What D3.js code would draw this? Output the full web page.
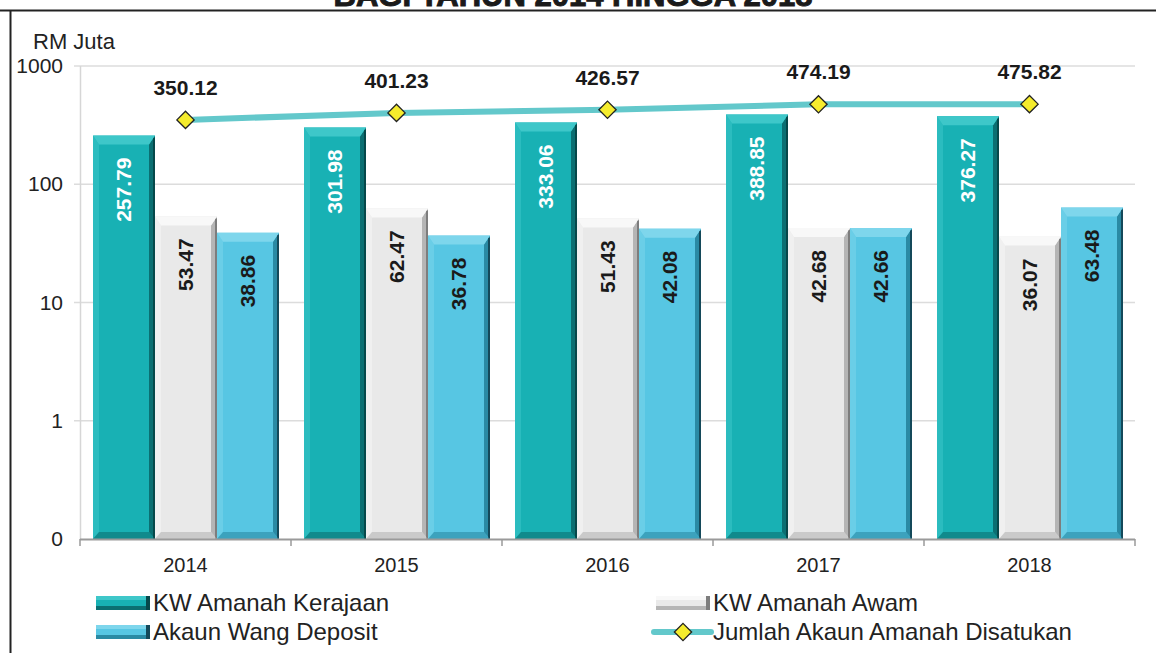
<!DOCTYPE html>
<html>
<head>
<meta charset="utf-8">
<script src="https://cdnjs.cloudflare.com/ajax/libs/d3/7.8.5/d3.min.js"></script>
<style>
  body { margin: 0; background: #fff; }
  svg { font-family: "Liberation Sans", Arial, sans-serif; }
  .grid line { stroke: #dcdcdc; stroke-width: 1.5px; }
  .ylab text { font-size: 21px; fill: #222; }
  .xlab { font-size: 20px; fill: #222; }
  .val { font-size: 21px; font-weight: bold; }
  .legend text { font-size: 24px; fill: #222; }
</style>
</head>
<body>
<script>
// data
var years = ["2014", "2015", "2016", "2017", "2018"];
var kerajaan = [257.79, 301.98, 333.06, 388.85, 376.27];
var awam = [53.47, 62.47, 51.43, 42.68, 36.07];
var deposit = [38.86, 36.78, 42.08, 42.66, 63.48];
var jumlah = [350.12, 401.23, 426.57, 474.19, 475.82];
var yTicks = [0.1, 1, 10, 100, 1000];
var yTickLabels = ["0", "1", "10", "100", "1000"];

var seriesNames = ["KW Amanah Kerajaan", "KW Amanah Awam", "Akaun Wang Deposit"];
var seriesData = [kerajaan, awam, deposit];
var lineName = "Jumlah Akaun Amanah Disatukan";

// bar looks: body, light bevel, dark bevel, label colour
var looks = [
  {body: "#18b1b4", light: "#3ec7c9", dark: "#0b6f72", edge: "#06484a", text: "#fff"},
  {body: "#e9e9e9", light: "#f8f8f8", dark: "#b5b5b5", edge: "#7d7d7d", text: "#1a1a1a"},
  {body: "#57c6e3", light: "#7ed6ec", dark: "#2a8aa4", edge: "#14495a", text: "#1a1a1a"}
];

var W = 1156, H = 653;
var svg = d3.select("body").append("svg").attr("width", W).attr("height", H);

var x = d3.scaleBand().domain(years).range([80, 1135]);
var xs = d3.scaleBand().domain([0, 1, 2]).range([13, 199]);
var y = d3.scaleLog().domain([0.1, 1000]).range([539, 66]);

// frame and cut title (the top of the title is outside the picture, as in the source)
svg.append("text")
  .attr("x", 573).attr("y", 6)
  .attr("text-anchor", "middle")
  .style("font-size", "31px").style("font-weight", "bold")
  .style("fill", "#1a1a1a").style("stroke", "#1a1a1a").style("stroke-width", "1px")
  .text("BAGI TAHUN 2014 HINGGA 2018");
svg.append("line").attr("x1", 0).attr("x2", W).attr("y1", 10.5).attr("y2", 10.5)
  .style("stroke", "#222").style("stroke-width", 2);
svg.append("line").attr("x1", 10.5).attr("x2", 10.5).attr("y1", 10).attr("y2", H)
  .style("stroke", "#222").style("stroke-width", 2);

// grid lines
svg.append("g").attr("class", "grid")
  .selectAll("line").data(yTicks.slice(1)).enter().append("line")
  .attr("x1", 74).attr("x2", 1135)
  .attr("y1", function(d) { return y(d); }).attr("y2", function(d) { return y(d); });

// y axis
svg.append("line").attr("x1", 80.5).attr("x2", 80.5).attr("y1", 66).attr("y2", 539)
  .style("stroke", "#d6d6d6").style("stroke-width", 1.5);
svg.append("g").attr("class", "ylab")
  .selectAll("text").data(yTicks).enter().append("text")
  .attr("x", 63).attr("y", function(d) { return y(d) + 7; })
  .attr("text-anchor", "end")
  .text(function(d, i) { return yTickLabels[i]; });
svg.append("text").attr("x", 33).attr("y", 49)
  .style("font-size", "22px").style("fill", "#222").text("RM Juta");

// bars
function bevelBar(g, x0, w, top, bottom, lk) {
  var bt = 9, bs = 6, bb = 7;
  g.append("rect").attr("x", x0).attr("y", top).attr("width", w).attr("height", bottom - top)
    .style("fill", lk.body);
  // left strip
  g.append("polygon").attr("points", [[x0, top], [x0 + bs, top + bt], [x0 + bs, bottom - bb], [x0, bottom]].join(" "))
    .style("fill", lk.light).style("opacity", 0.5);
  // right strip
  g.append("polygon").attr("points", [[x0 + w, top], [x0 + w - bs, top + bt], [x0 + w - bs, bottom - bb], [x0 + w, bottom]].join(" "))
    .style("fill", lk.dark);
  g.append("rect").attr("x", x0 + w - 2).attr("y", top + 2).attr("width", 2).attr("height", bottom - top - 2)
    .style("fill", lk.edge);
  // top cap
  g.append("polygon").attr("points", [[x0, top], [x0 + w, top], [x0 + w - bs, top + bt], [x0 + bs, top + bt]].join(" "))
    .style("fill", lk.light);
  // bottom
  g.append("polygon").attr("points", [[x0, bottom], [x0 + w, bottom], [x0 + w - bs, bottom - bb], [x0 + bs, bottom - bb]].join(" "))
    .style("fill", lk.dark).style("opacity", 0.6);
}

var bars = svg.append("g");
seriesData.forEach(function(vals, s) {
  vals.forEach(function(v, i) {
    var x0 = x(years[i]) + xs(s);
    bevelBar(bars, x0, xs.bandwidth(), y(v), y(0.1), looks[s]);
  });
});

// bar labels
seriesData.forEach(function(vals, s) {
  bars.selectAll(".lab" + s).data(vals).enter().append("text")
    .attr("class", "val")
    .attr("text-anchor", "end")
    .attr("transform", function(d, i) {
      var cx = x(years[i]) + xs(s) + xs.bandwidth() / 2 + 7;
      return "translate(" + cx + "," + (y(d) + 22) + ") rotate(-90)";
    })
    .style("fill", looks[s].text)
    .text(function(d) { return d.toFixed(2); });
});

// x axis
svg.append("line").attr("x1", 80).attr("x2", 1135).attr("y1", 539.5).attr("y2", 539.5)
  .style("stroke", "#9a9a9a").style("stroke-width", 2);
svg.append("g").selectAll("line").data(years.concat(["end"])).enter().append("line")
  .attr("x1", function(d, i) { return i < years.length ? x(d) : x.range()[1]; })
  .attr("x2", function(d, i) { return i < years.length ? x(d) : x.range()[1]; })
  .attr("y1", 539).attr("y2", 546)
  .style("stroke", "#9a9a9a").style("stroke-width", 1.5);
svg.append("g").selectAll("text").data(years).enter().append("text")
  .attr("class", "xlab")
  .attr("x", function(d) { return x(d) + x.bandwidth() / 2; })
  .attr("y", 572).attr("text-anchor", "middle")
  .text(function(d) { return d; });

// total line
var cx = function(d, i) { return x(years[i]) + x.bandwidth() / 2; };
svg.append("path").datum(jumlah)
  .attr("d", d3.line().x(cx).y(function(d) { return y(d); }))
  .style("fill", "none").style("stroke", "#63c8cb").style("stroke-width", 6);
var diamond = d3.symbol().type(d3.symbolDiamond2).size(190);
svg.append("g").selectAll("path").data(jumlah).enter().append("path")
  .attr("d", diamond)
  .attr("transform", function(d, i) { return "translate(" + cx(d, i) + "," + y(d) + ")"; })
  .style("fill", "#f5ec2d").style("stroke", "#222").style("stroke-width", 1.3);
svg.append("g").selectAll("text").data(jumlah).enter().append("text")
  .attr("class", "val")
  .attr("x", cx).attr("y", function(d) { return y(d) - 25; })
  .attr("text-anchor", "middle").style("fill", "#1a1a1a")
  .text(function(d) { return d.toFixed(2); });

// legend
var legend = svg.append("g").attr("class", "legend");
var items = [
  {name: seriesNames[0], kind: 0, lx: 96, ly: 603},
  {name: seriesNames[1], kind: 1, lx: 656, ly: 603},
  {name: seriesNames[2], kind: 2, lx: 96, ly: 632},
  {name: lineName, kind: "line", lx: 656, ly: 632}
];
items.forEach(function(it) {
  if (it.kind === "line") {
    legend.append("line").attr("x1", it.lx - 2).attr("x2", it.lx + 55)
      .attr("y1", it.ly).attr("y2", it.ly)
      .style("stroke", "#63c8cb").style("stroke-width", 6).style("stroke-linecap", "round");
    legend.append("path").attr("d", diamond)
      .attr("transform", "translate(" + (it.lx + 27) + "," + it.ly + ")")
      .style("fill", "#f5ec2d").style("stroke", "#222").style("stroke-width", 1.3);
  } else {
    var lk = looks[it.kind];
    legend.append("rect").attr("x", it.lx).attr("y", it.ly - 7).attr("width", 54).attr("height", 14)
      .style("fill", lk.body);
    legend.append("rect").attr("x", it.lx).attr("y", it.ly - 7).attr("width", 54).attr("height", 4)
      .style("fill", lk.light);
    legend.append("rect").attr("x", it.lx).attr("y", it.ly + 3).attr("width", 54).attr("height", 4)
      .style("fill", lk.dark);
    legend.append("rect").attr("x", it.lx + 50).attr("y", it.ly - 7).attr("width", 4).attr("height", 14)
      .style("fill", lk.edge);
  }
  legend.append("text").attr("x", it.lx + 57).attr("y", it.ly + 8).text(it.name);
});
</script>
</body>
</html>
